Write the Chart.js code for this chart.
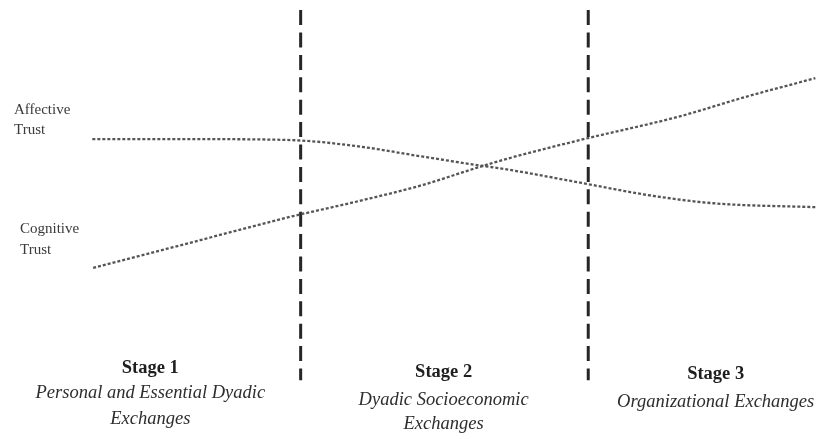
<!DOCTYPE html>
<html>
<head>
<meta charset="utf-8">
<script src="https://cdn.jsdelivr.net/npm/chart.js@4.4.1/dist/chart.umd.min.js"></script>
<style>
  html, body { margin: 0; padding: 0; background: #ffffff; }
  #wrap { width: 817px; height: 439px; position: relative; }
</style>
</head>
<body>
<div id="wrap"><canvas id="c" width="817" height="439"></canvas></div>
<script>
// ---- data (x = progression across the relationship, 0-100; y = trust level, 0-100) ----
const affectiveX = [11.3, 24.5, 35.5, 43.7, 51.8, 58.4, 62.4, 71.0, 79.2, 87.3, 99.8];
const affectiveY = [68.3, 68.3, 68.1, 66.7, 64.3, 62.4, 61.3, 58.4, 55.6, 53.7, 52.8];
const cognitiveX = [11.4, 24.5, 35.5, 43.7, 51.8, 58.4, 62.4, 71.0, 83.2, 91.4, 99.8];
const cognitiveY = [39.0, 45.3, 50.6, 54.1, 57.9, 61.8, 64.0, 68.1, 73.5, 78.0, 82.2];
const stageBoundaries = [36.8, 72.0];
const boundaryTop = 97.7;
const boundaryBottom = 13.4;
const seriesNames = [["Affective", "Trust"], ["Cognitive", "Trust"]];
const stageTitles = ["Stage 1", "Stage 2", "Stage 3"];
const stageSubtitles = [
  ["Personal and Essential Dyadic", "Exchanges"],
  ["Dyadic Socioeconomic", "Exchanges"],
  ["Organizational Exchanges"]
];

const toPts = (xs, ys) => xs.map((x, i) => ({ x: x, y: ys[i] }));

const datasets = [
  {
    label: seriesNames[0].join(" "),
    data: toPts(affectiveX, affectiveY),
    borderColor: "#555555",
    borderWidth: 2.3,
    borderDash: [3, 2],
    pointRadius: 0,
    cubicInterpolationMode: "monotone",
    fill: false
  },
  {
    label: seriesNames[1].join(" "),
    data: toPts(cognitiveX, cognitiveY),
    borderColor: "#555555",
    borderWidth: 2.3,
    borderDash: [3, 2],
    pointRadius: 0,
    cubicInterpolationMode: "monotone",
    fill: false
  }
];
stageBoundaries.forEach((bx, i) => {
  datasets.push({
    label: "boundary " + (i + 1),
    data: [{ x: bx, y: boundaryTop }, { x: bx, y: boundaryBottom }],
    borderColor: "#262626",
    borderWidth: 3,
    borderDash: [15, 7.4],
    borderCapStyle: "butt",
    pointRadius: 0,
    tension: 0,
    fill: false
  });
});

// text layout (positions only)
const textLayout = {
  seriesLabels: [
    { x: 14, y: [110, 130] },
    { x: 20, y: [229, 250] }
  ],
  stages: [
    { cx: 18.4, y: [368, 393, 419] },
    { cx: 54.3, y: [372, 400, 424] },
    { cx: 87.6, y: [374, 402] }
  ]
};

const textPlugin = {
  id: "textPlugin",
  afterDatasetsDraw(chart) {
    const ctx = chart.ctx;
    const xs = chart.scales.x;
    ctx.save();
    ctx.textBaseline = "middle";
    // series labels
    ctx.fillStyle = "#3a3a3a";
    ctx.font = "15px 'Liberation Serif', 'Times New Roman', serif";
    ctx.textAlign = "left";
    seriesNames.forEach((lines, i) => {
      const lay = textLayout.seriesLabels[i];
      lines.forEach((t, j) => {
        ctx.fillText(t, lay.x, lay.y[j]);
      });
    });
    // stage labels
    ctx.textAlign = "center";
    stageTitles.forEach((title, i) => {
      const lay = textLayout.stages[i];
      const cx = xs.getPixelForValue(lay.cx);
      ctx.fillStyle = "#1e1e1e";
      ctx.font = "bold 18.5px 'Liberation Serif', 'Times New Roman', serif";
      ctx.fillText(title, cx, lay.y[0]);
      ctx.fillStyle = "#2e2e2e";
      ctx.font = "italic 18.5px 'Liberation Serif', 'Times New Roman', serif";
      stageSubtitles[i].forEach((t, j) => {
        ctx.fillText(t, cx, lay.y[j + 1]);
      });
    });
    ctx.restore();
  }
};

new Chart(document.getElementById("c"), {
  type: "line",
  data: { datasets: datasets },
  options: {
    responsive: false,
    animation: false,
    layout: { padding: 0 },
    plugins: { legend: { display: false }, tooltip: { enabled: false }, title: { display: false } },
    datasets: { line: { clip: false } },
    scales: {
      x: { type: "linear", min: 0, max: 100, display: false },
      y: { type: "linear", min: 0, max: 100, display: false }
    }
  },
  plugins: [textPlugin]
});
</script>
</body>
</html>
